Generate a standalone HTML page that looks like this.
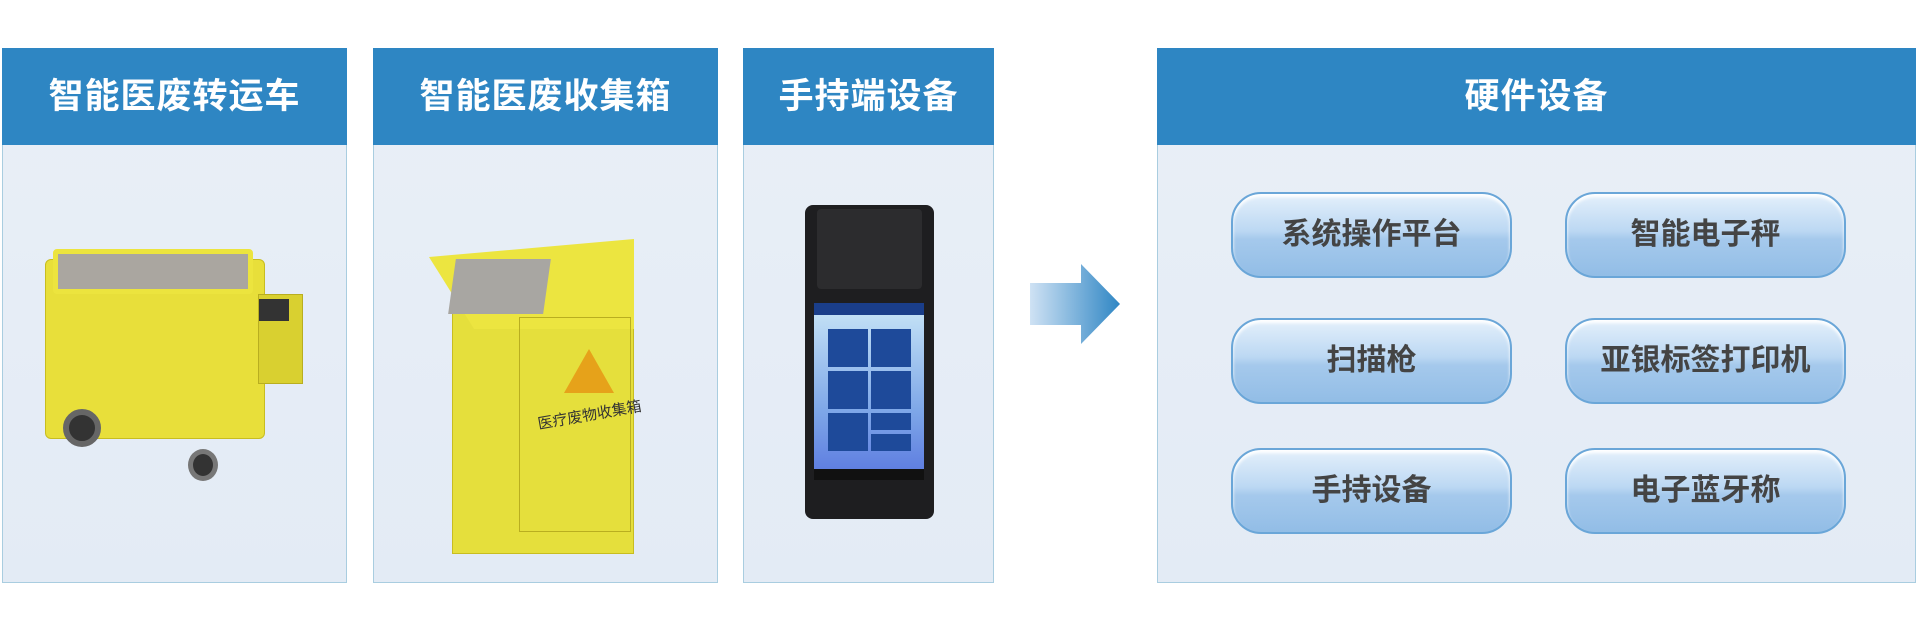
<!DOCTYPE html>
<html><head><meta charset="utf-8">
<style>
*{margin:0;padding:0;box-sizing:border-box}
body{width:1920px;height:623px;background:#fff;position:relative;overflow:hidden;font-family:"Liberation Sans","Noto Sans CJK SC",sans-serif}
.p{position:absolute;top:48px;height:535px;background:linear-gradient(#e9eff7,#e3ebf5);border:1px solid #a9cde0}
.h{position:absolute;left:-1px;right:-1px;top:-1px;height:97px;background:#2e86c3;color:#fff;font-weight:bold;font-size:35px;text-align:center;line-height:97px;letter-spacing:1px}
.b{position:absolute;width:281px;height:86px;border:2px solid #6aa6d8;border-radius:30px;background:linear-gradient(#e4f0fb 0%,#bcd8f3 45%,#a5c9ec 55%,#92bde6 100%);box-shadow:inset 0 3px 3px #fff;color:#444;font-weight:bold;font-size:30px;text-align:center;line-height:82px}
.a{position:absolute}
</style></head><body>
<div class="p" style="left:2px;width:345px"><div class="h">智能医废转运车</div>
 <!-- cart -->
 <div class="a" style="left:42px;top:210px;width:220px;height:180px;background:#e8df3a;border:1px solid #c8bd20;border-radius:6px"></div>
 <div class="a" style="left:50px;top:200px;width:200px;height:45px;background:#aaa6a0;border:5px solid #ece43e;border-radius:4px"></div>
 <div class="a" style="left:255px;top:245px;width:45px;height:90px;background:#d9d030;border:1px solid #b9ae20"></div>
 <div class="a" style="left:256px;top:250px;width:30px;height:22px;background:#333"></div>
 <div class="a" style="left:60px;top:360px;width:38px;height:38px;border-radius:50%;background:#333;border:6px solid #666"></div>
 <div class="a" style="left:185px;top:400px;width:30px;height:32px;border-radius:50%;background:#333;border:5px solid #777"></div>
</div>
<div class="p" style="left:373px;width:345px"><div class="h">智能医废收集箱</div>
 <div class="a" style="left:78px;top:220px;width:182px;height:285px;background:#e5df3c;border:1px solid #c8bd20"></div>
 <div class="a" style="left:55px;top:190px;width:205px;height:90px;background:#ece540;clip-path:polygon(0 20%,100% 0,100% 100%,22% 100%)"></div>
 <div class="a" style="left:78px;top:210px;width:95px;height:55px;background:#a8a6a2;transform:skewX(-8deg)"></div>
 <div class="a" style="left:145px;top:268px;width:112px;height:215px;border:1px solid #b9ae20"></div>
 <div class="a" style="left:190px;top:300px;width:0;height:0;border-left:25px solid transparent;border-right:25px solid transparent;border-bottom:44px solid #e6a21a"></div>
 <div class="a" style="left:163px;top:355px;font-size:15px;color:#333;transform:rotate(-10deg)">医疗废物收集箱</div>
</div>
<div class="p" style="left:743px;width:251px"><div class="h">手持端设备</div>
 <div class="a" style="left:61px;top:156px;width:129px;height:314px;background:#1e1e20;border-radius:8px"></div>
 <div class="a" style="left:73px;top:160px;width:105px;height:80px;background:#2c2c2e;border-radius:4px"></div>
 <div class="a" style="left:70px;top:254px;width:110px;height:177px;background:linear-gradient(#c9e6f7,#7fa8e8 60%,#5a78e0);"></div>
 <div class="a" style="left:70px;top:254px;width:110px;height:12px;background:#1a3e8a"></div>
 <div class="a" style="left:84px;top:280px;width:40px;height:38px;background:#1e4a9a"></div>
 <div class="a" style="left:127px;top:280px;width:40px;height:38px;background:#1e4a9a"></div>
 <div class="a" style="left:84px;top:322px;width:40px;height:38px;background:#1e4a9a"></div>
 <div class="a" style="left:127px;top:322px;width:40px;height:38px;background:#1e4a9a"></div>
 <div class="a" style="left:84px;top:364px;width:40px;height:38px;background:#1e4a9a"></div>
 <div class="a" style="left:127px;top:364px;width:40px;height:17px;background:#1e4a9a"></div>
 <div class="a" style="left:127px;top:385px;width:40px;height:17px;background:#1e4a9a"></div>
 <div class="a" style="left:70px;top:420px;width:110px;height:11px;background:#111"></div>
</div>
<svg class="a" style="left:1026px;top:262px" width="96" height="84">
 <defs><linearGradient id="g" x1="0" x2="1"><stop offset="0" stop-color="#cfe2f4"/><stop offset="1" stop-color="#2f86c4"/></linearGradient></defs>
 <polygon points="4,21 55,21 55,2 94,42 55,82 55,63 4,63" fill="url(#g)"/>
</svg>
<div class="p" style="left:1157px;width:759px"><div class="h">硬件设备</div></div>
<div class="b" style="left:1231px;top:192px">系统操作平台</div>
<div class="b" style="left:1565px;top:192px">智能电子秤</div>
<div class="b" style="left:1231px;top:318px">扫描枪</div>
<div class="b" style="left:1565px;top:318px">亚银标签打印机</div>
<div class="b" style="left:1231px;top:448px">手持设备</div>
<div class="b" style="left:1565px;top:448px">电子蓝牙称</div>
</body></html>
